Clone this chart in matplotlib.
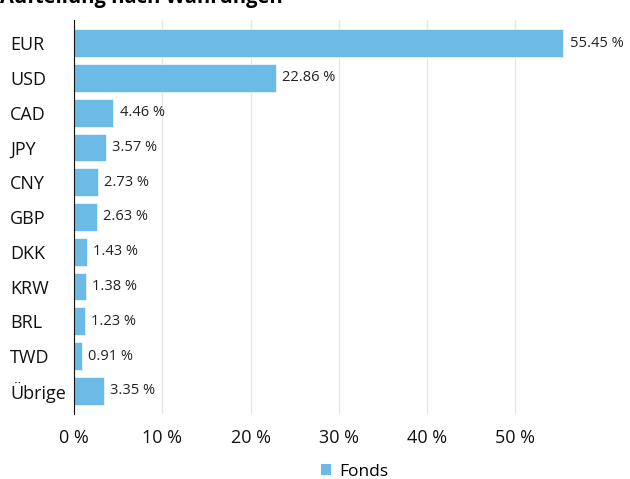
import matplotlib.pyplot as plt

plt.rcParams['font.family'] = ['Open Sans', 'DejaVu Sans']

currencies = ["EUR", "USD", "CAD", "JPY", "CNY", "GBP", "DKK", "KRW", "BRL", "TWD", "Übrige"]
shares = [55.45, 22.86, 4.46, 3.57, 2.73, 2.63, 1.43, 1.38, 1.23, 0.91, 3.35]
xticks = [0, 10, 20, 30, 40, 50]

fig = plt.figure(figsize=(6.3, 4.79), dpi=100)
ax = fig.add_axes([0.1175, 0.136, 0.832, 0.822])

pos = list(range(len(currencies)))
ax.barh(pos, shares, height=0.8, color='#6cbbe6', edgecolor='#e8f4fb', linewidth=0.6, zorder=3)

for p, v in zip(pos, shares):
    ax.text(v + 0.7, p, f"{v:.2f} %", va='center', ha='left', fontsize=10.5, color='#222222')

ax.set_ylim(10.66, -0.66)
ax.set_xlim(0, 59.4)
ax.set_yticks(pos)
ax.set_yticklabels(currencies, fontsize=13, color='#111111')
ax.set_xticks(xticks)
ax.set_xticklabels([f"{t} %" for t in xticks], fontsize=13, color='#111111')
ax.tick_params(axis='both', length=0)
ax.tick_params(axis='x', pad=11)
for lab in ax.get_yticklabels():
    lab.set_ha('left')
    lab.set_x(-0.122)
ax.yaxis.set_tick_params(pad=0)

ax.grid(axis='x', color='#e6e6e6', linewidth=1, zorder=0)
for s in ['top', 'right', 'bottom']:
    ax.spines[s].set_visible(False)
ax.spines['left'].set_color('#111111')
ax.spines['left'].set_zorder(4)

fig.text(0.0, 1.005, "Aufteilung nach Währungen", fontsize=14.5, fontweight='bold', ha='left', va='center')

ax.bar([0], [0], color='#6cbbe6', label='Fonds')
fig.legend(loc='center', bbox_to_anchor=(0.563, 0.015), frameon=False, fontsize=12.5,
           handlelength=0.55, handleheight=0.55, handletextpad=0.5)

fig.savefig("out.png", dpi=100)
